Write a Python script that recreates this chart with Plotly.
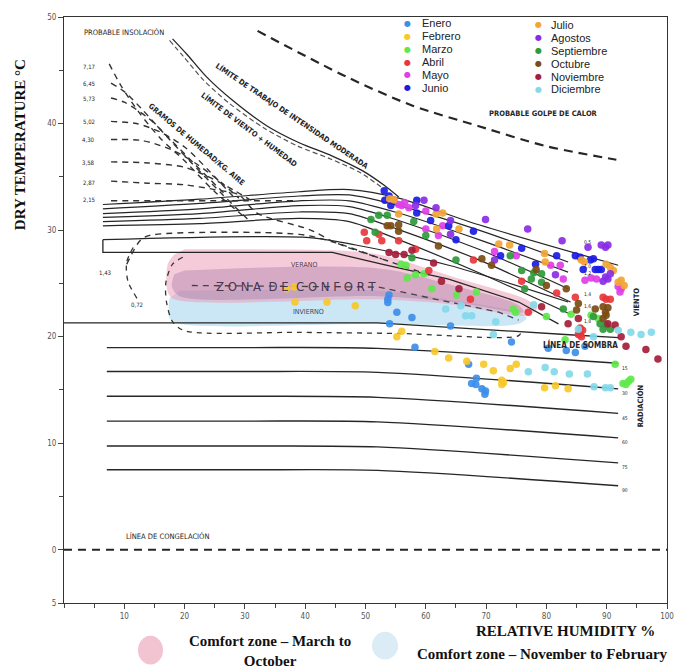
import plotly.graph_objects as go

# ---------------- DATA ----------------
month_names = ["Enero", "Febrero", "Marzo", "Abril", "Mayo", "Junio",
               "Julio", "Agostos", "Septiembre", "Octubre", "Noviembre", "Diciembre"]
month_colors = ["#3d8ee8", "#f7c82a", "#5ee84b", "#e8363d", "#e03ee8", "#1b1be6",
                "#f2a533", "#8a2be6", "#2f9a3c", "#7a4d14", "#a51d3a", "#82d9ea"]

enero_rh = [53.9, 53.7, 53.7, 55.2, 57.7, 54.0, 64.1, 58.2, 67.1, 68.4, 67.6, 68.3, 69.3, 69.9, 69.8, 74.2, 80.3, 83.3, 84.8, 86.4]
enero_t = [23.9, 23.5, 23.2, 22.3, 21.8, 21.2, 21.0, 19.0, 17.4, 16.1, 15.6, 15.5, 15.1, 14.9, 14.6, 19.5, 18.9, 18.7, 18.5, 19.1]
febrero_rh = [36.9, 38.2, 38.3, 43.6, 48.3, 55.2, 56.0, 61.5, 63.8, 66.8, 69.6, 71.2, 72.6, 72.6, 72.9, 74.0, 75.0, 79.7, 81.5, 83.6]
febrero_t = [24.5, 24.65, 23.25, 23.25, 22.9, 20.0, 20.5, 18.6, 18.0, 17.7, 17.4, 16.8, 15.9, 15.5, 15.7, 17.0, 17.4, 15.2, 15.4, 15.1]
marzo_rh = [55.9, 56.7, 56.9, 58.3, 59.7, 61.0, 65.1, 68.4, 74.5, 74.9, 80.0, 84.1, 87.4, 88.6, 83.1, 91.4, 92.7, 93.2, 94.0, 93.6]
marzo_t = [26.8, 26.7, 25.5, 25.8, 25.9, 24.5, 23.9, 24.2, 22.6, 22.3, 21.9, 22.1, 22.0, 21.7, 19.7, 17.4, 15.6, 15.5, 16.0, 15.8]
abril_rh = [49.8, 50.2, 52.2, 52.7, 55.5, 58.3, 60.5, 67.9, 67.4, 75.9, 77.0, 81.7, 84.8, 89.4, 89.9, 90.6, 85.3, 85.6, 85.8, 86.0, 85.6]
abril_t = [29.8, 29.0, 29.6, 29.0, 29.0, 28.2, 26.2, 27.2, 23.5, 25.2, 22.3, 24.1, 23.7, 23.7, 23.5, 23.5, 20.2, 20.3, 20.0, 20.6, 20.8]
mayo_rh = [54.7, 55.5, 56.0, 56.5, 57.2, 60.0, 62.8, 60.0, 62.1, 71.4, 75.0, 80.7, 82.3, 82.8, 86.4, 87.4, 88.3, 92.4, 92.2, 91.9]
mayo_t = [32.8, 32.4, 32.3, 32.6, 32.1, 31.8, 30.4, 30.1, 29.5, 28.0, 27.6, 26.7, 26.7, 25.4, 25.3, 25.5, 25.4, 24.5, 24.2, 24.7]
junio_rh = [53.1, 53.9, 53.2, 54.2, 58.5, 58.5, 60.8, 63.8, 65.0, 67.9, 72.4, 75.9, 78.2, 81.7, 84.8, 85.6, 87.3, 87.8, 86.1, 88.1, 88.6, 89.1]
junio_t = [33.7, 33.2, 32.8, 32.3, 32.8, 31.6, 30.9, 30.4, 29.1, 29.9, 27.6, 28.3, 26.8, 27.6, 27.6, 27.45, 27.2, 27.3, 26.3, 26.3, 26.3, 26.3]
julio_rh = [54.0, 54.7, 55.5, 61.7, 62.8, 61.8, 65.5, 72.1, 73.9, 79.7, 79.8, 85.8, 86.3, 89.9, 90.6, 91.1, 91.9, 92.4, 92.9]
julio_t = [32.95, 32.85, 31.5, 31.5, 31.6, 30.1, 30.1, 28.7, 28.6, 27.8, 27.0, 27.2, 27.0, 26.8, 26.5, 26.2, 25.1, 25.3, 24.8]
agosto_rh = [58.3, 59.7, 61.7, 64.1, 64.1, 69.9, 76.9, 82.6, 86.9, 89.1, 89.8, 90.2, 71.4, 81.5, 89.8, 90.2, 90.6, 89.4]
agosto_t = [32.3, 32.8, 32.1, 30.9, 29.6, 31.0, 30.1, 29.0, 28.4, 28.6, 28.4, 28.6, 27.2, 25.8, 25.6, 25.4, 25.9, 25.2]
sept_rh = [50.9, 52.2, 53.6, 51.6, 58.0, 60.0, 57.7, 65.0, 74.0, 75.9, 77.9, 79.2, 77.5, 79.2, 76.4, 82.8, 87.8, 88.9, 89.9, 89.4, 90.6]
sept_t = [31.0, 31.4, 31.4, 29.8, 30.8, 29.5, 27.4, 27.2, 27.6, 26.2, 26.0, 25.9, 25.4, 25.1, 24.5, 22.6, 21.9, 21.2, 21.1, 20.7, 20.7]
oct_rh = [53.6, 54.2, 55.5, 55.5, 62.1, 69.3, 70.9, 78.3, 80.0, 83.3, 85.3, 85.0, 88.1, 89.4, 90.2, 89.8, 89.9, 89.4]
oct_t = [30.4, 30.4, 30.5, 29.9, 28.5, 27.3, 26.7, 26.3, 24.8, 24.5, 23.1, 22.5, 22.6, 22.8, 22.7, 22.3, 22.0, 21.7]
nov_rh = [53.9, 55.0, 56.4, 57.7, 61.3, 62.6, 65.5, 79.2, 83.6, 85.3, 90.2, 91.4, 92.4, 93.2, 96.5, 98.5]
nov_t = [27.9, 27.7, 27.7, 28.1, 26.9, 25.2, 24.5, 22.8, 21.2, 21.7, 21.2, 21.1, 20.0, 19.1, 18.8, 17.9]
dic_rh = [63.3, 65.8, 66.6, 67.6, 71.6, 71.2, 77.9, 85.3, 87.8, 91.9, 94.0, 95.7, 97.4, 77.0, 79.8, 81.3, 83.8, 86.8, 87.9, 89.8, 90.6]
dic_t = [22.6, 22.9, 21.95, 21.95, 21.4, 20.2, 23.0, 20.7, 20.0, 20.6, 20.4, 20.2, 20.4, 16.7, 17.1, 16.7, 16.5, 16.5, 15.3, 15.2, 15.2]

month_rh = [enero_rh, febrero_rh, marzo_rh, abril_rh, mayo_rh, junio_rh,
            julio_rh, agosto_rh, sept_rh, oct_rh, nov_rh, dic_rh]
month_t = [enero_t, febrero_t, marzo_t, abril_t, mayo_t, junio_t,
           julio_t, agosto_t, sept_t, oct_t, nov_t, dic_t]

# Bioclimatic chart reference lines (relative humidity %, temperature °C)
golpe_calor_rh = [32.1, 46.8, 57.7, 68.8, 79.8, 91.6]
golpe_calor_t = [48.7, 44.4, 41.7, 39.75, 37.9, 36.6]

limite_trabajo_rh = [18.0, 20.3, 23.6, 27.9, 33.6, 39.0, 44.5, 49.4, 53.1, 55.5]
limite_trabajo_t = [47.95, 46.55, 44.4, 42.2, 39.8, 38.2, 36.95, 35.6, 34.2, 33.1]
limite_trabajo2_rh = [17.5, 19.8, 23.1, 27.4, 33.1, 38.7, 44.1, 49.1, 52.7]
limite_trabajo2_t = [47.8, 46.3, 44.1, 41.9, 39.6, 37.9, 36.7, 35.4, 34.0]

wind_rh = [6.45, 22.5, 39.0, 47.3, 55.5, 68.8]
wind_lines_t = [
    [32.4, 32.9, 33.6, 33.8, 33.0, 30.5],
    [32.0, 32.5, 33.2, 33.3, 32.3, 30.0],
    [31.55, 32.0, 32.75, 32.75, 31.6, 29.1],
    [31.2, 31.55, 32.3, 32.2, 30.9, 28.2],
    [30.8, 31.1, 31.7, 31.55, 30.05, 27.2],
    [30.4, 30.6, 31.1, 30.8, 29.1, 26.0],
]
wind_end_rh = [91.9, 83.6, 83.6, 83.6, 84.0, 84.0]
wind_end_t = [26.7, 27.0, 26.05, 24.5, 23.25, 22.1]
wind_labels = ["0,5", "1,0", "1,2", "1,4", "1,6", "1,8"]
wind_label_t = [28.9, 26.6, 26.0, 24.0, 22.9, 21.5]

comfort_top_rh = [6.45, 6.45, 44.5, 52.7, 63.8, 75.4, 82.0]
comfort_top_t = [29.1, 27.9, 27.9, 26.8, 25.4, 23.25, 21.2]
comfort_upper_rh = [6.45, 40.7, 48.4, 63.8, 83.6]
comfort_upper_t = [29.1, 29.3, 28.6, 26.7, 23.25]
winter_dash_rh = [21.2, 52.2, 62.6, 72.1, 75.4]
winter_dash_t = [24.8, 24.65, 23.4, 22.3, 21.55]
comfort_outline_rh = [19.7, 18.0, 16.9, 17.0, 18.0, 20.0, 39.0, 55.5, 75.4, 76.0]
comfort_outline_t = [27.45, 26.8, 25.1, 23.25, 21.4, 20.55, 20.4, 20.3, 20.1, 20.7]

shade_rh = [0, 52.0, 83.1, 92.0]
shade_t = [21.3, 21.3, 20.2, 19.9]

moisture_values = ["7,17", "6,45", "5,73", "5,02", "4,30", "3,58", "2,87", "2,15"]
moisture_label_t = [45.4, 43.75, 42.35, 40.2, 38.5, 36.3, 34.5, 32.85]
moisture_rh = [
    [7.5, 9.5, 12.5, 16, 20, 25, 30],
    [7.8, 10, 13, 17, 21, 26, 30.5],
    [7.8, 10, 14, 18, 22, 27],
    [7.8, 12, 16, 20, 24, 28],
    [7.8, 13, 18, 22, 26, 29],
    [7.8, 14, 20, 24, 28, 31],
    [7.8, 14, 20, 25, 29, 32, 40.7, 45.1, 52.7],
    [7.8, 30, 38],
]
moisture_t = [
    [45.6, 43.5, 41.0, 38.6, 36.5, 33.6, 31.2],
    [43.8, 43.0, 41.3, 38.8, 36.4, 33.5, 31.0],
    [42.4, 42.0, 40.5, 38.3, 36.0, 33.2],
    [40.2, 40.0, 39.2, 37.8, 35.6, 33.2],
    [38.5, 38.4, 37.5, 36.2, 34.5, 33.0],
    [36.4, 36.3, 35.9, 35.0, 33.8, 32.8],
    [34.6, 34.4, 34.25, 33.8, 33.3, 31.6, 30.05, 28.8, 27.3],
    [32.75, 32.75, 32.75],
]
m143_rh = [10.4, 12.6, 14.2, 39.0, 45.1, 52.7, 60.5]
m143_t = [26.8, 29.0, 29.5, 29.6, 28.8, 27.3, 25.8]
m072_rh = [12.1, 10.6, 10.4, 11.7]
m072_t = [23.6, 25.2, 27.0, 28.6]

radiation_rh = [7.1, 30.0, 52.0, 91.9]
radiation_t = [[18.97, 18.97, 18.9, 17.5], [16.73, 16.73, 16.65, 15.1],
               [14.40, 14.40, 14.3, 12.8], [12.07, 12.07, 12.0, 10.5],
               [9.74, 9.74, 9.65, 8.15], [7.50, 7.50, 7.45, 6.0]]
radiation_labels = ["15", "30", "45", "60", "75", "90"]

summer_zone_rh = [20.0, 44.5, 52.2, 64.6, 77.0, 78.5, 77.0, 64.6, 52.2, 18.3, 17.2, 17.2, 18.3]
summer_zone_t = [28.2, 28.1, 27.7, 25.6, 23.4, 22.7, 22.0, 23.0, 23.5, 23.5, 24.2, 26.8, 27.7]
overlap_zone_rh = [20.0, 52.2, 64.6, 75.4, 76.2, 64.6, 52.2, 19.2, 17.9, 18.3]
overlap_zone_t = [26.2, 26.4, 24.8, 22.95, 22.3, 23.25, 23.8, 23.8, 24.7, 25.85]
winter_zone_rh = [19.2, 52.2, 64.6, 75.4, 76.7, 75.4, 52.2, 19.2, 17.5, 17.5]
winter_zone_t = [24.3, 24.3, 23.4, 22.3, 21.75, 21.2, 21.2, 21.2, 21.75, 23.6]

y_tick_vals = [-5, 0, 10, 20, 30, 40, 50]
y_tick_text = ["5", "0", "10", "20", "30", "40", "50"]
x_tick_vals = [10, 20, 30, 40, 50, 60, 70, 80, 90, 100]

# ---------------- FIGURE ----------------
NARROW = "Liberation Sans Narrow, DejaVu Sans Condensed, Liberation Sans, sans-serif"
SERIF = "Liberation Serif, DejaVu Serif, serif"
INK = "#262626"

fig = go.Figure()

def line(x, y, color=INK, width=1.3, dash="solid", shape="spline"):
    fig.add_trace(go.Scatter(x=x, y=y, mode="lines", hoverinfo="skip", showlegend=False,
                             line=dict(color=color, width=width, dash=dash, shape=shape, smoothing=0.8)))

def zone(x, y, fillcolor):
    fig.add_trace(go.Scatter(x=x, y=y, mode="lines", fill="toself", fillcolor=fillcolor,
                             line=dict(width=0, shape="spline", smoothing=0.9),
                             hoverinfo="skip", showlegend=False))

# comfort zone fills
zone(winter_zone_rh, winter_zone_t, "rgba(160,210,235,0.55)")
zone(summer_zone_rh, summer_zone_t, "rgba(236,155,182,0.52)")
zone(overlap_zone_rh, overlap_zone_t, "rgba(160,110,160,0.36)")

# reference lines
line(golpe_calor_rh, golpe_calor_t, width=2.2, dash="9px,6px")
line(limite_trabajo_rh, limite_trabajo_t, width=1.3)
line(limite_trabajo2_rh, limite_trabajo2_t, color="#555", width=1.2, dash="5px,3px")
for wt, er, et in zip(wind_lines_t, wind_end_rh, wind_end_t):
    line(wind_rh + [er], wt + [et], width=1.2)
line(comfort_top_rh, comfort_top_t, width=1.3, shape="linear")
line(comfort_upper_rh, comfort_upper_t, width=1.2)
line(winter_dash_rh, winter_dash_t, color="#444", width=1.3, dash="6px,5px", shape="linear")
line(comfort_outline_rh, comfort_outline_t, color="#333", width=1.3, dash="5px,5px")
line(shade_rh, shade_t, width=1.3, shape="linear")
for mr, mt in zip(moisture_rh, moisture_t):
    line(mr, mt, color="#333", width=1.4, dash="6px,5px")
line(m143_rh, m143_t, color="#333", width=1.4, dash="6px,5px")
line(m072_rh, m072_t, color="#333", width=1.3, dash="5px,5px")
for rt in radiation_t:
    line(radiation_rh, rt, width=1.4)
line([0, 100], [0, 0], width=2, dash="8px,6px", shape="linear")

# monthly scatter
for name, color, rh, t in zip(month_names, month_colors, month_rh, month_t):
    fig.add_trace(go.Scatter(x=rh, y=t, mode="markers", name=name, showlegend=False,
                             marker=dict(color=color, size=7.5, opacity=0.92, line=dict(width=0))))

ann = []
def text(x, y, s, size=7, color=INK, angle=0, family=NARROW, xanchor="center", bold=False, xref="x", yref="y"):
    ann.append(dict(x=x, y=y, xref=xref, yref=yref, text=("<b>%s</b>" % s) if bold else s,
                    showarrow=False, textangle=angle, xanchor=xanchor, yanchor="middle",
                    font=dict(size=size, color=color, family=family)))

text(9.9, 48.5, "PROBABLE INSOLACIÓN", size=7.5)
text(79.5, 40.96, "PROBABLE GOLPE DE CALOR", size=7.5, bold=True)
text(37.9, 40.7, "LÍMITE DE TRABAJO DE INTENSIDAD MODERADA", size=7.5, angle=34, bold=True)
text(30.6, 39.4, "LÍMITE DE VIENTO + HUMEDAD", size=7.5, angle=37, bold=True)
text(22.0, 38.0, "GRAMOS DE HUMEDAD/KG. AIRE", size=7.5, angle=40, bold=True)
for lab, ly in zip(moisture_values, moisture_label_t):
    text(4.1, ly, lab, size=6)
text(6.8, 26.05, "1,43", size=6)
text(12.1, 22.97, "0,72", size=6)
text(39.8, 26.7, "VERANO", size=7, color="#5a3a4a")
text(38.5, 24.7, "Z O N A  D E  C O N F O R T", size=13, color="#45354f")
text(40.5, 22.3, "INVIERNO", size=7, color="#34486a")
text(85.6, 19.25, "LÍNEA DE SOMBRA", size=8, bold=True)
text(17.2, 1.2, "LÍNEA DE CONGELACIÓN", size=7.5)
text(95.0, 23.3, "VIENTO", size=7.5, angle=-90, bold=True)
text(95.6, 13.5, "RADIACIÓN", size=7.5, angle=-90, bold=True)
for lab, rt in zip(radiation_labels, radiation_t):
    text(93.1, rt[-1] - 0.4, lab, size=5)
for lab, ly in zip(wind_labels, wind_label_t):
    text(86.8, ly, lab, size=5)

# month legend (two columns)
for i, (name, color) in enumerate(zip(month_names, month_colors)):
    col = i // 6
    row = i % 6
    dot_x = 57.0 if col == 0 else 78.7
    txt_x = 59.0 if col == 0 else 80.5
    base = 49.4 if col == 0 else 49.25
    yy = base - row * 1.21
    text(dot_x, yy, "●", size=8, color=color, family="DejaVu Sans")
    text(txt_x, yy, name, size=11, color="#222", family="Liberation Sans, Arial, sans-serif", xanchor="left")

# axis titles & bottom legend
text(-0.073, 0.783, "DRY TEMPERATURE °C", size=15, angle=-90, family=SERIF, bold=True, xref="paper", yref="paper", color="#111")
text(0.831, -0.047, "RELATIVE HUMIDITY %", size=15, family=SERIF, bold=True, xref="paper", yref="paper", color="#111")
text(0.3416, -0.0822, "Comfort zone – March to<br>October", size=15, family=SERIF, bold=True, xref="paper", yref="paper", color="#111")
text(0.582, -0.0864, "Comfort zone – November to February", size=15, family=SERIF, bold=True, xref="paper", yref="paper", color="#111", xanchor="left")

shapes = [
    dict(type="circle", xref="paper", yref="paper", x0=0.1227, x1=0.1642, y0=-0.1051, y1=-0.0559,
         fillcolor="#f2c3d1", line=dict(width=0), layer="above"),
    dict(type="circle", xref="paper", yref="paper", x0=0.5108, x1=0.5539, y0=-0.0966, y1=-0.0492,
         fillcolor="#dbecf7", line=dict(width=0), layer="above"),
]

axis_common = dict(showline=True, linecolor="#333", linewidth=1.2, mirror=True, showgrid=False,
                   zeroline=False, ticks="outside", ticklen=5, tickcolor="#444",
                   tickfont=dict(size=8, color="#555", family=NARROW))

# the page body adds an 8px offset, so the figure is 8px smaller and margins are shifted
fig.update_layout(
    width=683, height=664, autosize=False,
    margin=dict(l=56, r=24, t=5, b=69),
    paper_bgcolor="white", plot_bgcolor="white",
    annotations=ann, shapes=shapes, showlegend=False,
    xaxis=dict(range=[0, 100], tickvals=x_tick_vals, minor=dict(ticks="outside", dtick=5, tick0=0, ticklen=4, tickcolor="#444"),
               **axis_common),
    yaxis=dict(range=[-5, 50], tickvals=y_tick_vals, ticktext=y_tick_text,
               minor=dict(ticks="outside", dtick=5, tick0=0, ticklen=4, tickcolor="#444"), **axis_common),
)

fig.write_html("out.html")
